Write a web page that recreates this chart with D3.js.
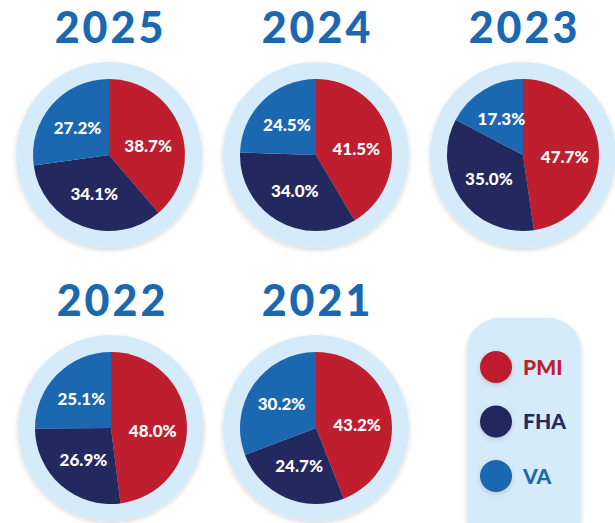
<!DOCTYPE html>
<html>
<head>
<meta charset="utf-8">
<script src="https://cdn.jsdelivr.net/npm/d3@7"></script>
<style>
  body { margin: 0; background: #ffffff; }
  svg { display: block; }
  text { font-family: "Lato", "Open Sans", sans-serif; }
</style>
</head>
<body>
<div id="chart"></div>
<script>
// data
var categories = ["PMI", "FHA", "VA"];
var years = ["2025", "2024", "2023", "2022", "2021"];
var pmi = [38.7, 41.5, 47.7, 48.0, 43.2];
var fha = [34.1, 34.0, 35.0, 26.9, 24.7];
var va  = [27.2, 24.5, 17.3, 25.1, 30.2];

var colors = d3.scaleOrdinal()
    .domain(categories)
    .range(["#be1e2d", "#23285e", "#1b67b0"]);

var width = 615, height = 523;
var r_pie = 76, r_ring = 93;

var svg = d3.select("#chart").append("svg")
    .attr("width", width)
    .attr("height", height);

// soft shadow for the rings and legend
var defs = svg.append("defs");
var shadow = defs.append("filter")
    .attr("id", "shadow")
    .attr("x", "-20%").attr("y", "-20%")
    .attr("width", "140%").attr("height", "140%");
shadow.append("feDropShadow")
    .attr("dx", 0).attr("dy", 2)
    .attr("stdDeviation", 2.5)
    .attr("flood-color", "#000")
    .attr("flood-opacity", 0.16);

// grid positions
var col_x = [109, 316, 523];
var row_y = [155, 428];

var pie = d3.pie()
    .sort(null)
    .value(function(d) { return d.value; });

var arc = d3.arc().innerRadius(0).outerRadius(r_pie);
var label_arc = d3.arc().innerRadius(r_pie * 0.55).outerRadius(r_pie * 0.55);

years.forEach(function(year, i) {
  var cx = col_x[i % 3] + (i == 3 ? 2 : 0),
      cy = row_y[Math.floor(i / 3)];

  var g = svg.append("g")
      .attr("transform", "translate(" + cx + "," + cy + ")");

  g.append("text")
      .attr("text-anchor", "middle")
      .attr("x", 1.5)
      .attr("y", -r_pie - 36)
      .attr("fill", "#1b67b0")
      .attr("font-size", 43)
      .attr("font-weight", 900)
      .attr("letter-spacing", 3)
      .text(year);

  g.append("circle")
      .attr("r", r_ring)
      .attr("fill", "#d6ebfa")
      .attr("filter", "url(#shadow)");

  var values = [
    {key: "PMI", value: pmi[i]},
    {key: "FHA", value: fha[i]},
    {key: "VA", value: va[i]}
  ];

  var arcs = pie(values);

  g.selectAll("path.slice")
    .data(arcs)
    .enter()
    .append("path")
      .attr("class", "slice")
      .attr("d", arc)
      .attr("fill", function(d) { return colors(d.data.key); });

  g.selectAll("text.lbl")
    .data(arcs)
    .enter()
    .append("text")
      .attr("class", "lbl")
      .attr("transform", function(d) {
        var c = label_arc.centroid(d);
        // red labels sit a little lower in the original
        if (d.data.key == "PMI") c[1] += 5;
        return "translate(" + c + ")";
      })
      .attr("text-anchor", "middle")
      .attr("dy", "0.36em")
      .attr("fill", "#ffffff")
      .attr("font-size", 17)
      .attr("font-weight", 900)
      .text(function(d) { return d3.format(".1f")(d.data.value) + "%"; });
});

// legend
var legend = svg.append("g")
    .attr("transform", "translate(467,318)");

legend.append("rect")
    .attr("width", 114)
    .attr("height", 230)
    .attr("rx", 32)
    .attr("fill", "#d6ebfa")
    .attr("filter", "url(#shadow)");

var item = legend.selectAll("g.item")
  .data(categories)
  .enter()
  .append("g")
    .attr("class", "item")
    .attr("transform", function(d, i) { return "translate(29," + (49 + i * 54.5) + ")"; });

item.append("circle")
    .attr("r", 16)
    .attr("fill", function(d) { return colors(d); })
    .attr("filter", "url(#shadow)");

item.append("text")
    .attr("x", 27)
    .attr("dy", "0.36em")
    .attr("fill", function(d) { return colors(d); })
    .attr("font-size", 21)
    .attr("font-weight", 900)
    .text(function(d) { return d; });
</script>
</body>
</html>
